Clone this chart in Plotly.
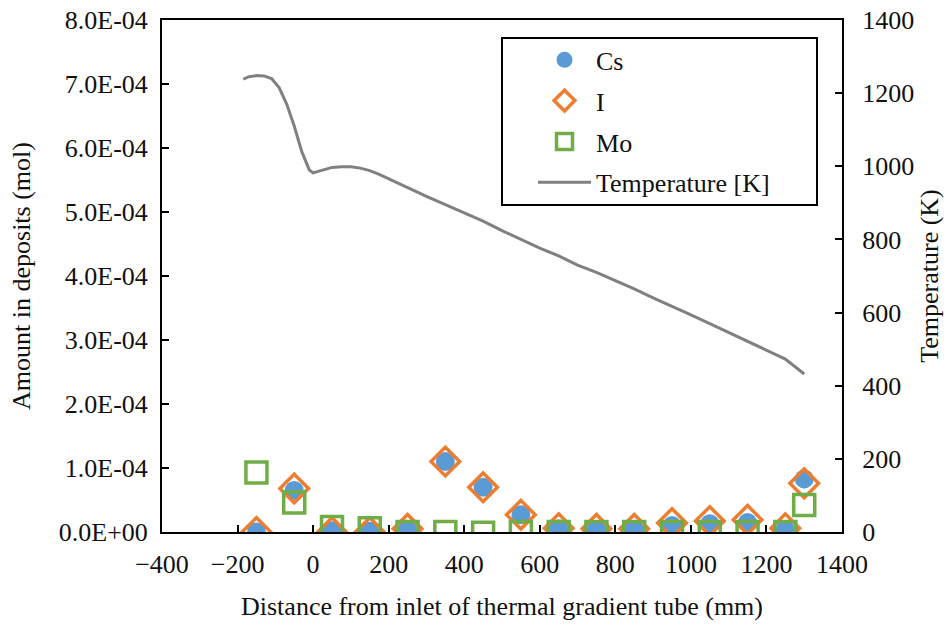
import plotly.graph_objects as go
from plotly.subplots import make_subplots

# Sample positions (mm)
positions = [-150, -50, 50, 150, 250, 350, 450, 550, 650, 750, 850, 950, 1050, 1150, 1250, 1300]
cs_mol = [0, 6.5e-5, 2e-6, 1e-6, 4e-6, 1.1e-4, 7e-5, 2.7e-5, 5e-6, 4e-6, 4e-6, 1.0e-5, 1.3e-5, 1.5e-5, 4e-6, 8.3e-5]
i_mol = [0, 6.8e-5, 0, 0, 5e-6, 1.1e-4, 7e-5, 2.7e-5, 6e-6, 5e-6, 5e-6, 1.4e-5, 1.7e-5, 1.9e-5, 6e-6, 7.6e-5]
mo_mol = [9.3e-5, 4.6e-5, 8e-6, 6e-6, 0, 0, -1e-6, 0, 0, 0, 0, 0, 0, 0, 0, 4.2e-5]

# Temperature profile
temp_x = [-185, -170, -150, -130, -110, -90, -70, -50, -30, -10, 0, 25, 50, 75, 100, 125, 150, 175,
          200, 250, 300, 350, 400, 450, 500, 550, 600, 650, 700, 750, 800, 850, 900, 950, 1000,
          1050, 1100, 1150, 1200, 1250, 1300]
temp_k = [1238, 1245, 1248, 1247, 1240, 1215, 1170, 1110, 1040, 990, 982, 990, 997, 999, 999, 995, 988, 978,
          966, 940, 918, 895, 872, 850, 824, 800, 776, 755, 730, 710, 688, 665, 640, 618, 594,
          570, 546, 522, 498, 473, 432]

# Tick labels
left_tickvals = [0, 1e-4, 2e-4, 3e-4, 4e-4, 5e-4, 6e-4, 7e-4, 8e-4]
left_ticktext = ["0.0E+00", "1.0E-04", "2.0E-04", "3.0E-04", "4.0E-04", "5.0E-04", "6.0E-04", "7.0E-04", "8.0E-04"]

FONT = "Liberation Serif, Times New Roman, serif"
FS = 26
TXT = "#111111"

fig = make_subplots(specs=[[{"secondary_y": True}]])

fig.add_trace(go.Scatter(x=positions, y=cs_mol, mode="markers", name="Cs", legendgroup="cs",
                         marker=dict(symbol="circle", size=19, color="#5B9BD5",
                                     line=dict(width=0))), secondary_y=False)
fig.add_trace(go.Scatter(x=positions, y=i_mol, mode="markers", name="I", legendgroup="i",
                         marker=dict(symbol="diamond-open", size=22, color="#ED7D31",
                                     line=dict(width=3.5, color="#ED7D31"))), secondary_y=False)
fig.add_trace(go.Scatter(x=positions, y=mo_mol, mode="markers", name="Mo", legendgroup="mo",
                         marker=dict(symbol="square-open", size=21, color="#70AD47",
                                     line=dict(width=3.5, color="#70AD47"))), secondary_y=False)
fig.add_trace(go.Scatter(x=temp_x, y=temp_k, mode="lines", name="Temperature [K]", legendgroup="t",
                         line=dict(color="#808080", width=3)), secondary_y=True)

fig.update_layout(
    width=952, height=628,
    margin=dict(l=162, r=110, t=20, b=96, autoexpand=False),
    paper_bgcolor="white", plot_bgcolor="white",
    font=dict(family=FONT, size=FS, color=TXT),
    showlegend=True,
    legend=dict(x=0.5456, y=0.968, xanchor="left", yanchor="top",
                borderwidth=0, bgcolor="rgba(0,0,0,0)",
                font=dict(family=FONT, size=FS, color=TXT),
                traceorder="grouped", tracegroupgap=4, itemwidth=53),
    shapes=[dict(type="rect", xref="paper", yref="paper",
                 x0=(502 - 162) / 680, x1=(817 - 162) / 680,
                 y0=(532 - 205) / 512, y1=(532 - 38) / 512,
                 line=dict(color="black", width=2), fillcolor="white", layer="below")],
)

fig.update_xaxes(domain=[0, 1], range=[-400, 1400], dtick=200, tick0=-400, ticks="inside", ticklen=7,
                 tickwidth=1.5, tickcolor="black", showline=True, linewidth=2, linecolor="black", mirror=True,
                 showgrid=False, zeroline=False, automargin=False, ticklabelstandoff=8,
                 title=dict(text="Distance from inlet of thermal gradient tube (mm)",
                            font=dict(family=FONT, size=FS), standoff=19),
                 tickfont=dict(family=FONT, size=FS))
fig.update_yaxes(range=[0, 8e-4], tickvals=left_tickvals, ticktext=left_ticktext,
                 ticks="inside", ticklen=7, tickwidth=1.5, tickcolor="black",
                 showline=True, linewidth=2, linecolor="black", mirror=True,
                 showgrid=False, zeroline=False, automargin=False, ticklabelstandoff=7,
                 title=dict(text="Amount in deposits (mol)", font=dict(family=FONT, size=FS), standoff=21),
                 tickfont=dict(family=FONT, size=FS), secondary_y=False)
fig.update_yaxes(range=[0, 1400], dtick=200, ticks="inside", ticklen=7, tickwidth=1.5, tickcolor="black",
                 showline=True, linewidth=2, linecolor="black",
                 showgrid=False, zeroline=False, automargin=False, ticklabelstandoff=13,
                 title=dict(text="Temperature (K)", font=dict(family=FONT, size=FS), standoff=7),
                 tickfont=dict(family=FONT, size=FS), secondary_y=True)

fig.write_html("out.html")
